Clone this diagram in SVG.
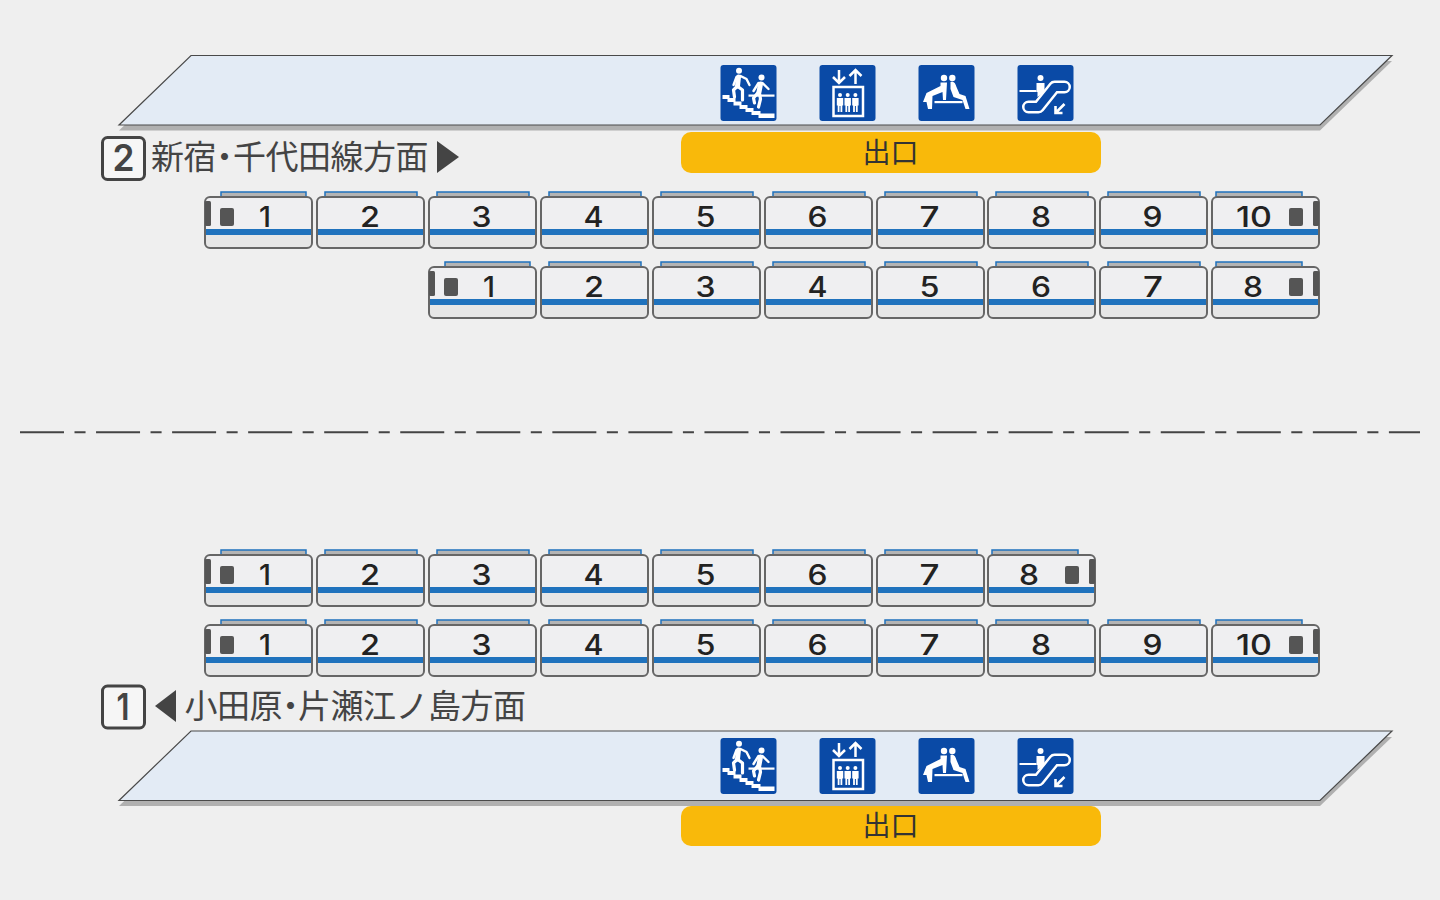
<svg xmlns="http://www.w3.org/2000/svg" width="1440" height="900" viewBox="0 0 1440 900">
<style>
.plat{fill:#e3ebf5;stroke:#4a4a4a;stroke-width:1.2}
.shad{fill:#b0b0b0}
.exit{fill:#f9b90a}
.exitt{font-family:"Noto Sans CJK JP",sans-serif;font-size:28px;fill:#333;text-anchor:middle}
.lab{font-family:"Noto Sans CJK JP",sans-serif;font-size:33px;font-weight:400;fill:#444}
.badge{fill:#f6f6f6;stroke:#444;stroke-width:3}
.bt{font-family:Inter,"Liberation Sans",sans-serif;font-size:37px;font-weight:600;fill:#444;text-anchor:middle}
.n{font-family:Inter,"Liberation Sans",sans-serif;font-size:28px;font-weight:500;fill:#222;text-anchor:middle}
.tri{fill:#444}
.ib{fill:#0a4aa6}
.w{fill:#fff}
.ws{fill:none;stroke:#fff;stroke-linecap:round;stroke-linejoin:round}
</style>
<defs>
<g id="body">
<rect x="0" y="0" width="107" height="51" rx="5" fill="#efeff1"/>
<path d="M0 38H107V46a5 5 0 0 1-5 5H5a5 5 0 0 1-5-5Z" fill="#e6e6e6"/>
<rect x="0" y="32" width="107" height="6" fill="#1f72bd"/>
<rect x="0" y="0" width="107" height="51" rx="5" fill="none" stroke="#666" stroke-width="2"/>
</g>
<rect id="roofM" x="8" y="-5" width="92" height="5" fill="#b4b4b4" stroke="#1f72bd" stroke-width="1.5"/>
<rect id="roofF" x="16" y="-5" width="85" height="5" fill="#b4b4b4" stroke="#1f72bd" stroke-width="1.5"/>
<rect id="roofL" x="4" y="-5" width="86" height="5" fill="#b4b4b4" stroke="#1f72bd" stroke-width="1.5"/>
<g id="front"><rect x="0" y="4" width="6" height="25" rx="1.5" fill="#555"/><rect x="15" y="11" width="14" height="18" rx="2" fill="#555"/></g>
<g id="rear"><rect x="101" y="4" width="6" height="25" rx="1.5" fill="#555"/><rect x="77" y="11" width="14" height="18" rx="2" fill="#555"/></g>
<g id="carM"><use href="#roofM"/><use href="#body"/></g>
<g id="carF"><use href="#roofF"/><use href="#body"/><use href="#front"/></g>
<g id="carL"><use href="#roofL"/><use href="#body"/><use href="#rear"/></g>
<g id="icStairs">
<rect width="56" height="56" rx="3" class="ib"/>
<path class="w" d="M2 30H9V33H15V36.500H21V40H27V43H33V46H40V48.500H54V53H38V50H31V47H25V44H19V40.500H13V37H7V34H2Z"/>
<rect x="28" y="29.500" width="26" height="2.200" class="w"/>
<circle cx="18.500" cy="5.800" r="3" class="w"/>
<path class="ws" stroke-width="5" d="M18 12L17 21"/>
<path class="ws" stroke-width="3.200" d="M17 21L13 25L14 32M18 22L22 25L22 35"/>
<path class="ws" stroke-width="2.400" d="M20 11L26 14L29 20M16 12L13 20"/>
<circle cx="41" cy="12.500" r="3" class="w"/>
<path class="ws" stroke-width="5" d="M40 19L38.500 27"/>
<path class="ws" stroke-width="3.200" d="M38 27L33 33L34 38M39 28L40 34L38 42"/>
<path class="ws" stroke-width="2.400" d="M42 18L48 24M38 18L33 26"/>
</g>
<g id="icLift">
<rect width="56" height="56" rx="3" class="ib"/>
<path d="M19.500 5V18M13.500 12L19.500 18L25.500 12M36 19V5M30 11L36 5L42 11" fill="none" stroke="#fff" stroke-width="2.500"/>
<rect x="14" y="22" width="29.500" height="29" style="fill:none;stroke:#fff;stroke-width:2.500"/>
<g id="pp"><circle cx="20.500" cy="30" r="2" class="w"/><path class="w" d="M17.300 33H23.700V40.500H22.800V47H21V41H20V47H18.200V40.500H17.300Z"/></g>
<use href="#pp" x="7.700"/><use href="#pp" x="15.400"/>
</g>
<g id="icSeat">
<rect width="56" height="56" rx="3" class="ib"/>
<circle cx="25.500" cy="13" r="3.200" class="w"/><circle cx="33.800" cy="13" r="3.200" class="w"/>
<path class="w" d="M22 17.500H28.500L27.500 35H24.500L24 27L14 31L13.500 44H9.500L8 37L4.500 37L8 28L22 21Z"/>
<path class="w" d="M32 17C36 16 37 19 38 22L41 29L47 31L51 44H47L44 35L35 32L32 24Z"/>
<rect x="16" y="36" width="28" height="2.200" class="w"/>
</g>
<g id="icEsc">
<rect width="56" height="56" rx="3" class="ib"/>
<rect x="2" y="25" width="17" height="2" class="w"/>
<circle cx="23" cy="13" r="3" class="w"/>
<path class="w" d="M19 18H27V27L20 32V27H19Z"/>
<path d="M11 42H21L37 22H47" fill="none" stroke="#fff" stroke-width="13" stroke-linecap="round" stroke-linejoin="round"/>
<path d="M11 42H21L37 22H47" fill="none" stroke="#0a4aa6" stroke-width="8" stroke-linecap="round" stroke-linejoin="round"/>
<path d="M47 39L38 48M38 41V48H45" fill="none" stroke="#fff" stroke-width="2.600"/>
</g>
</defs>
<rect width="1440" height="900" fill="#efefef"/>

<g id="platform-top">
<path class="shad" d="M191 61H1392L1320 130.500H119Z"/>
<path class="plat" d="M191 55.500H1392L1320 125H119Z"/>
</g>
<g id="icons-top">
<use id="i-stairs-t" href="#icStairs" x="720.500" y="65"/>
<use id="i-lift-t" href="#icLift" x="819.500" y="65"/>
<use id="i-seat-t" href="#icSeat" x="918.500" y="65"/>
<use id="i-esc-t" href="#icEsc" x="1017.500" y="65"/>
</g>
<g id="exit-top"><rect class="exit" x="681" y="132" width="420" height="41" rx="10"/><text class="exitt" x="890.500" y="163">出口</text></g>
<g id="label-2">
<rect class="badge" x="102.500" y="137.500" width="42" height="42" rx="5"/>
<text class="bt" x="123.500" y="171" textLength="22" lengthAdjust="spacingAndGlyphs">2</text>
<text class="lab" y="169" x="151 183.500 208 233 265.500 298 330.500 363 395.500">新宿・千代田線方面</text>
<path class="tri" d="M437 141L459 157L437 173Z"/>
</g>

<g id="train-2a">
<g id="a1" transform="translate(205,197)"><use href="#carF"/><text class="n" x="60" y="30" textLength="12" lengthAdjust="spacingAndGlyphs">1</text></g>
<g id="a2" transform="translate(317,197)"><use href="#carM"/><text class="n" x="53" y="30" textLength="20" lengthAdjust="spacingAndGlyphs">2</text></g>
<g id="a3" transform="translate(429,197)"><use href="#carM"/><text class="n" x="52.500" y="30" textLength="20" lengthAdjust="spacingAndGlyphs">3</text></g>
<g id="a4" transform="translate(541,197)"><use href="#carM"/><text class="n" x="52.500" y="30" textLength="20" lengthAdjust="spacingAndGlyphs">4</text></g>
<g id="a5" transform="translate(653,197)"><use href="#carM"/><text class="n" x="52.500" y="30" textLength="20" lengthAdjust="spacingAndGlyphs">5</text></g>
<g id="a6" transform="translate(765,197)"><use href="#carM"/><text class="n" x="52.500" y="30" textLength="20" lengthAdjust="spacingAndGlyphs">6</text></g>
<g id="a7" transform="translate(877,197)"><use href="#carM"/><text class="n" x="52.500" y="30" textLength="20" lengthAdjust="spacingAndGlyphs">7</text></g>
<g id="a8" transform="translate(988,197)"><use href="#carM"/><text class="n" x="53" y="30" textLength="20" lengthAdjust="spacingAndGlyphs">8</text></g>
<g id="a9" transform="translate(1100,197)"><use href="#carM"/><text class="n" x="52.500" y="30" textLength="20" lengthAdjust="spacingAndGlyphs">9</text></g>
<g id="a10" transform="translate(1212,197)"><use href="#carL"/><text class="n" x="42" y="30" textLength="36" lengthAdjust="spacingAndGlyphs">10</text></g>
</g>
<g id="train-2b">
<g id="b1" transform="translate(429,267)"><use href="#carF"/><text class="n" x="60" y="30" textLength="12" lengthAdjust="spacingAndGlyphs">1</text></g>
<g id="b2" transform="translate(541,267)"><use href="#carM"/><text class="n" x="53" y="30" textLength="20" lengthAdjust="spacingAndGlyphs">2</text></g>
<g id="b3" transform="translate(653,267)"><use href="#carM"/><text class="n" x="52.500" y="30" textLength="20" lengthAdjust="spacingAndGlyphs">3</text></g>
<g id="b4" transform="translate(765,267)"><use href="#carM"/><text class="n" x="52.500" y="30" textLength="20" lengthAdjust="spacingAndGlyphs">4</text></g>
<g id="b5" transform="translate(877,267)"><use href="#carM"/><text class="n" x="52.500" y="30" textLength="20" lengthAdjust="spacingAndGlyphs">5</text></g>
<g id="b6" transform="translate(988,267)"><use href="#carM"/><text class="n" x="53" y="30" textLength="20" lengthAdjust="spacingAndGlyphs">6</text></g>
<g id="b7" transform="translate(1100,267)"><use href="#carM"/><text class="n" x="53" y="30" textLength="20" lengthAdjust="spacingAndGlyphs">7</text></g>
<g id="b8" transform="translate(1212,267)"><use href="#carL"/><text class="n" x="41" y="30" textLength="20" lengthAdjust="spacingAndGlyphs">8</text></g>
</g>

<line id="divider" x1="20" y1="432.300" x2="1420" y2="432.300" stroke="#444" stroke-width="2" stroke-dasharray="44 10.500 11.050 10.500"/>

<g id="train-1a">
<g id="c1" transform="translate(205,555)"><use href="#carF"/><text class="n" x="60" y="30" textLength="12" lengthAdjust="spacingAndGlyphs">1</text></g>
<g id="c2" transform="translate(317,555)"><use href="#carM"/><text class="n" x="53" y="30" textLength="20" lengthAdjust="spacingAndGlyphs">2</text></g>
<g id="c3" transform="translate(429,555)"><use href="#carM"/><text class="n" x="52.500" y="30" textLength="20" lengthAdjust="spacingAndGlyphs">3</text></g>
<g id="c4" transform="translate(541,555)"><use href="#carM"/><text class="n" x="52.500" y="30" textLength="20" lengthAdjust="spacingAndGlyphs">4</text></g>
<g id="c5" transform="translate(653,555)"><use href="#carM"/><text class="n" x="52.500" y="30" textLength="20" lengthAdjust="spacingAndGlyphs">5</text></g>
<g id="c6" transform="translate(765,555)"><use href="#carM"/><text class="n" x="52.500" y="30" textLength="20" lengthAdjust="spacingAndGlyphs">6</text></g>
<g id="c7" transform="translate(877,555)"><use href="#carM"/><text class="n" x="52.500" y="30" textLength="20" lengthAdjust="spacingAndGlyphs">7</text></g>
<g id="c8" transform="translate(988,555)"><use href="#carL"/><text class="n" x="41" y="30" textLength="20" lengthAdjust="spacingAndGlyphs">8</text></g>
</g>
<g id="train-1b">
<g id="d1" transform="translate(205,625)"><use href="#carF"/><text class="n" x="60" y="30" textLength="12" lengthAdjust="spacingAndGlyphs">1</text></g>
<g id="d2" transform="translate(317,625)"><use href="#carM"/><text class="n" x="53" y="30" textLength="20" lengthAdjust="spacingAndGlyphs">2</text></g>
<g id="d3" transform="translate(429,625)"><use href="#carM"/><text class="n" x="52.500" y="30" textLength="20" lengthAdjust="spacingAndGlyphs">3</text></g>
<g id="d4" transform="translate(541,625)"><use href="#carM"/><text class="n" x="52.500" y="30" textLength="20" lengthAdjust="spacingAndGlyphs">4</text></g>
<g id="d5" transform="translate(653,625)"><use href="#carM"/><text class="n" x="52.500" y="30" textLength="20" lengthAdjust="spacingAndGlyphs">5</text></g>
<g id="d6" transform="translate(765,625)"><use href="#carM"/><text class="n" x="52.500" y="30" textLength="20" lengthAdjust="spacingAndGlyphs">6</text></g>
<g id="d7" transform="translate(877,625)"><use href="#carM"/><text class="n" x="52.500" y="30" textLength="20" lengthAdjust="spacingAndGlyphs">7</text></g>
<g id="d8" transform="translate(988,625)"><use href="#carM"/><text class="n" x="53" y="30" textLength="20" lengthAdjust="spacingAndGlyphs">8</text></g>
<g id="d9" transform="translate(1100,625)"><use href="#carM"/><text class="n" x="52.500" y="30" textLength="20" lengthAdjust="spacingAndGlyphs">9</text></g>
<g id="d10" transform="translate(1212,625)"><use href="#carL"/><text class="n" x="42" y="30" textLength="36" lengthAdjust="spacingAndGlyphs">10</text></g>
</g>

<g id="label-1">
<rect class="badge" x="102.500" y="686" width="42" height="42" rx="5"/>
<text class="bt" x="123" y="720" textLength="13" lengthAdjust="spacingAndGlyphs">1</text>
<path class="tri" d="M176 690L155 706L176 722Z"/>
<text class="lab" y="718" x="184.500 217 249.500 274 298 330.500 363 395.500 428 460.500 493">小田原・片瀬江ノ島方面</text>
</g>
<g id="platform-bottom">
<path class="shad" d="M191 737H1392L1320 806H119Z"/>
<path class="plat" d="M191 731H1392L1320 800.500H119Z"/>
</g>
<g id="icons-bottom">
<use id="i-stairs-b" href="#icStairs" x="720.500" y="738"/>
<use id="i-lift-b" href="#icLift" x="819.500" y="738"/>
<use id="i-seat-b" href="#icSeat" x="918.500" y="738"/>
<use id="i-esc-b" href="#icEsc" x="1017.500" y="738"/>
</g>
<g id="exit-bottom"><rect class="exit" x="681" y="806" width="420" height="40" rx="10"/><text class="exitt" x="890.500" y="836">出口</text></g>
</svg>
